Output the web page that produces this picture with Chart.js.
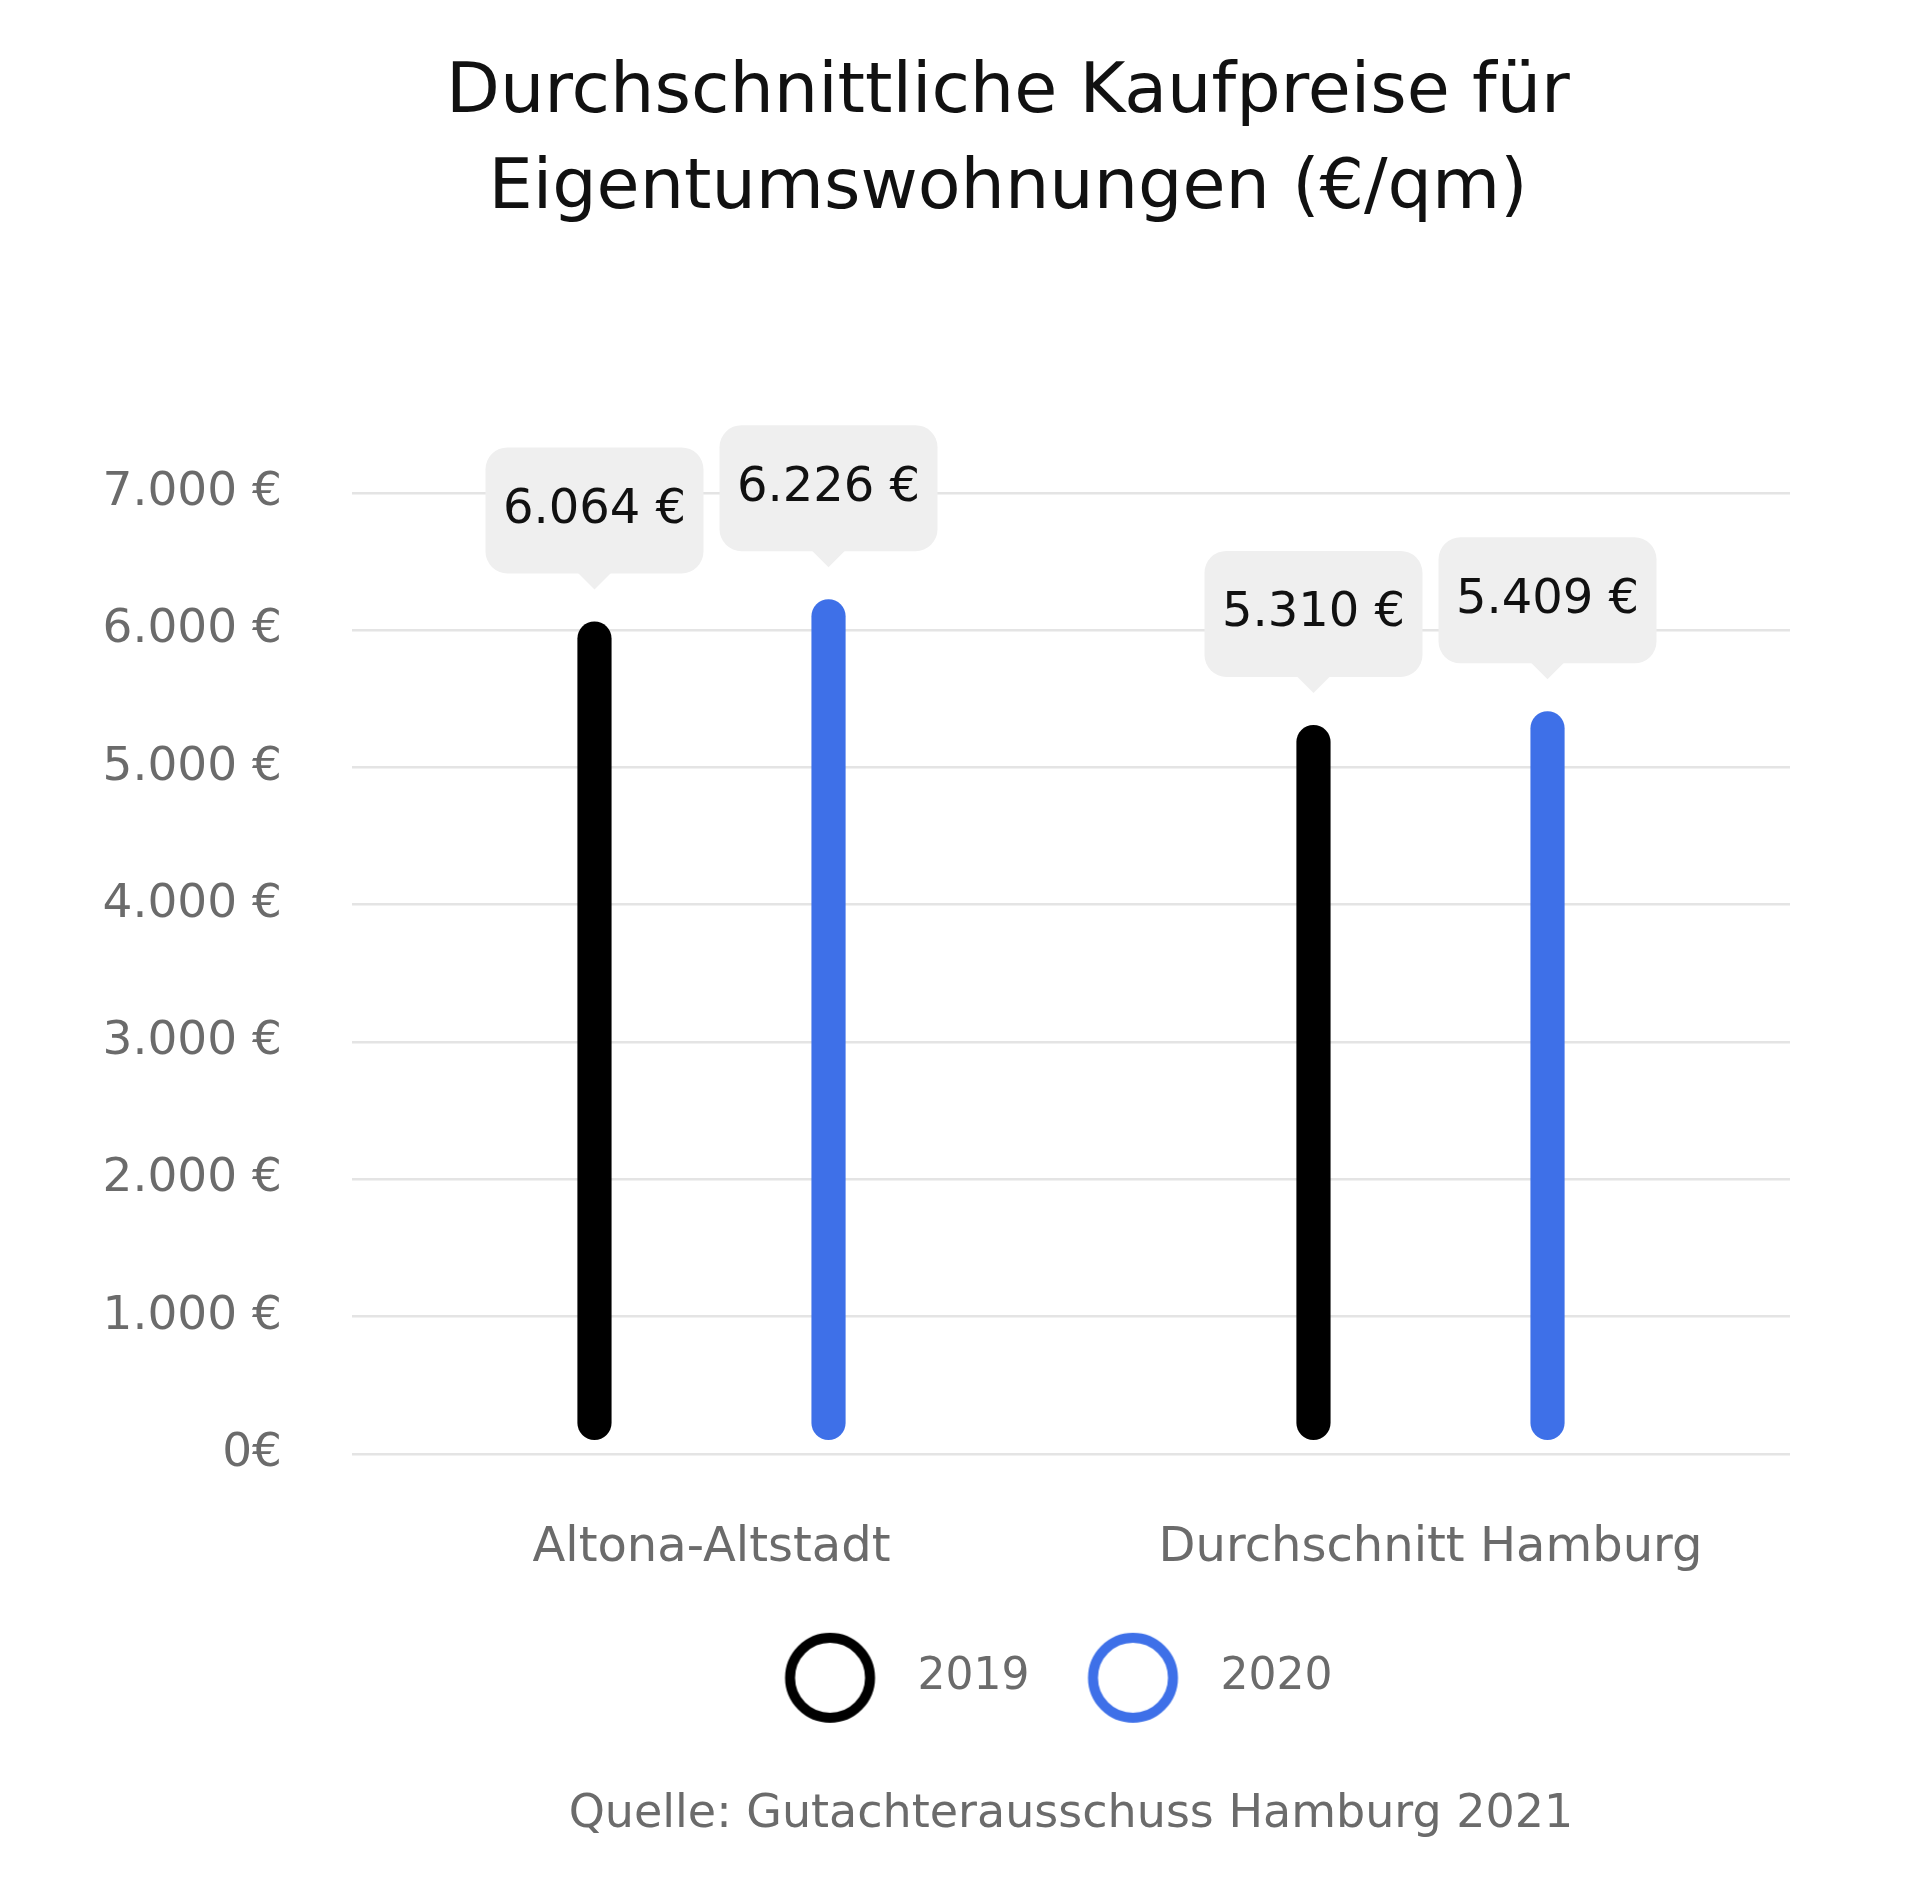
<!DOCTYPE html>
<html lang="de">
<head>
<meta charset="utf-8">
<title>Kaufpreise Eigentumswohnungen</title>
<script src="https://cdn.jsdelivr.net/npm/chart.js@4.4.1/dist/chart.umd.min.js"></script>
<style>
  html, body { margin: 0; padding: 0; background: #fff; }
  #wrap { width: 1920px; height: 1884px; }
</style>
</head>
<body>
<div id="wrap"><canvas id="priceChart"></canvas></div>
<script>
const categories = ["Altona-Altstadt", "Durchschnitt Hamburg"];
const years = ["2019", "2020"];
const prices2019 = [6064, 5310];
const prices2020 = [6226, 5409];
const yTicks = [0, 1000, 2000, 3000, 4000, 5000, 6000, 7000];
const colors = ["#000000", "#3e70e8"];
const FONT = "'DejaVu Sans', sans-serif";

function euro(v) {
  return String(v).replace(/\B(?=(\d{3})+(?!\d))/g, ".");
}

// hollow ring for the legend, drawn a bit left of the image centre
function ringIcon(color) {
  const c = document.createElement("canvas");
  c.width = 150;
  c.height = 100;
  const g = c.getContext("2d");
  g.strokeStyle = color;
  g.lineWidth = 10;
  g.beginPath();
  g.arc(52.5, 50, 40, 0, Math.PI * 2);
  g.stroke();
  return c;
}

const rings = colors.map(ringIcon);

// grey value bubbles above every bar
const bubbles = {
  id: "bubbles",
  afterLayout(chart) {
    // legend clips to its own box, give the rings room below
    chart.legend.bottom += 40;
    chart.legend.height += 40;
  },
  afterDatasetsDraw(chart) {
    const ctx = chart.ctx;
    chart.data.datasets.forEach((ds, i) => {
      chart.getDatasetMeta(i).data.forEach((bar, j) => {
        const w = 218, h = 126;
        const bottom = bar.y - 48;
        const top = bottom - h;
        ctx.save();
        ctx.fillStyle = "#efefef";
        ctx.beginPath();
        ctx.roundRect(bar.x - w / 2, top, w, h, 22);
        ctx.fill();
        ctx.beginPath();
        ctx.moveTo(bar.x - 17, bottom - 1);
        ctx.lineTo(bar.x, bottom + 16);
        ctx.lineTo(bar.x + 17, bottom - 1);
        ctx.closePath();
        ctx.fill();
        ctx.fillStyle = "#111111";
        ctx.font = "48px " + FONT;
        ctx.textAlign = "center";
        ctx.textBaseline = "middle";
        ctx.fillText(euro(ds.data[j]) + " €", bar.x, top + h / 2);
        ctx.restore();
      });
    });
  }
};

new Chart(document.getElementById("priceChart"), {
  type: "bar",
  data: {
    labels: categories,
    datasets: [
      { label: years[0], data: prices2019, backgroundColor: colors[0] },
      { label: years[1], data: prices2020, backgroundColor: colors[1] }
    ]
  },
  options: {
    responsive: true,
    maintainAspectRatio: false,
    animation: false,
    devicePixelRatio: 1,
    layout: { padding: { left: 96, right: 0, top: 0, bottom: 0 } },
    datasets: {
      bar: {
        categoryPercentage: 0.651,
        barPercentage: 0.146,
        borderRadius: 17,
        borderSkipped: false,
        base: 100
      }
    },
    scales: {
      x: {
        grid: { display: false },
        border: { display: false },
        ticks: { padding: 58, color: "#6b6b6b", font: { family: FONT, size: 48 } },
        afterFit(scale) { scale.height = 119; }
      },
      y: {
        min: 0,
        max: 7000,
        grid: { color: "#e4e4e4", lineWidth: 2.5, drawTicks: false },
        border: { display: false },
        ticks: {
          padding: 70,
          color: "#6b6b6b",
          font: { family: FONT, size: 47 },
          callback: v => v === 0 ? "0€" : euro(v) + " €"
        },
        afterBuildTicks(scale) { scale.ticks = yTicks.map(v => ({ value: v })); },
        afterFit(scale) { scale.width = 256; }
      },
      // empty right margin so the title sits where it does in the original
      y2: {
        type: "linear",
        position: "right",
        grid: { display: false },
        border: { display: false },
        ticks: { display: false },
        afterFit(scale) { scale.width = 130; }
      }
    },
    plugins: {
      title: {
        display: true,
        text: ["Durchschnittliche Kaufpreise für", "Eigentumswohnungen (€/qm)"],
        color: "#111111",
        font: { family: FONT, size: 70, weight: "normal", lineHeight: 1.371 },
        padding: { top: 46, bottom: 255 }
      },
      subtitle: {
        display: true,
        position: "bottom",
        fullSize: false,
        text: "Quelle: Gutachterausschuss Hamburg 2021",
        color: "#6b6b6b",
        font: { family: FONT, size: 46, weight: "normal", lineHeight: 1.2 },
        padding: { top: 78, bottom: 41 }
      },
      legend: {
        position: "bottom",
        fullSize: false,
        labels: {
          usePointStyle: true,
          pointStyleWidth: 86,
          padding: 83,
          color: "#6b6b6b",
          font: { family: FONT, size: 44 },
          generateLabels(chart) {
            return chart.data.datasets.map((ds, i) => ({
              text: ds.label,
              pointStyle: rings[i],
              fillStyle: "#ffffff",
              strokeStyle: colors[i],
              lineWidth: 0,
              fontColor: "#6b6b6b",
              hidden: false,
              datasetIndex: i
            }));
          }
        }
      },
      tooltip: { enabled: false }
    }
  },
  plugins: [bubbles]
});
</script>
</body>
</html>
